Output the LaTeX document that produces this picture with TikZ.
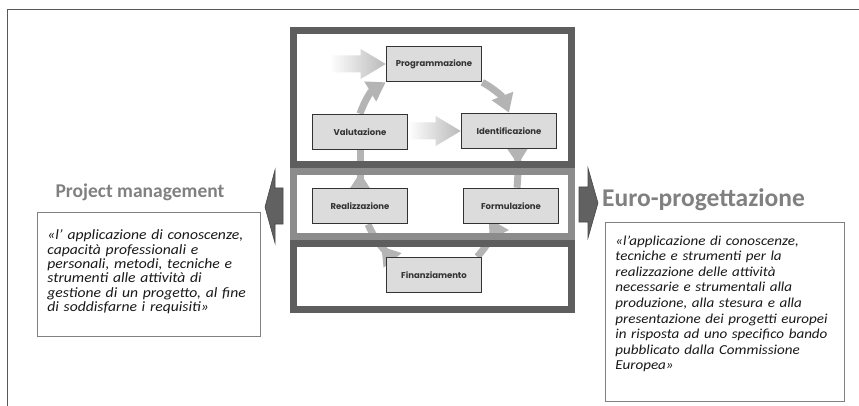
\documentclass[tikz,border=0pt]{standalone}
\usepackage{fontspec}
\setmainfont{Carlito}
\newfontfamily\stepfont{Poppins}
\newfontfamily\deffont[FakeStretch=1.1]{Carlito}
\usetikzlibrary{arrows.meta,calc,backgrounds,decorations.markings}

\definecolor{framedark}{HTML}{5E5E5E}
\definecolor{framelight}{HTML}{8C8C8C}
\definecolor{stepfill}{HTML}{DCDCDC}
\definecolor{cyclegray}{HTML}{B4B4B4}
\definecolor{titlegray}{HTML}{808080}

\newcommand{\pmfont}{\deffont\fontsize{14.2}{14.3}\selectfont\itshape}
\newcommand{\epfont}{\deffont\fontsize{13.7}{15.6}\selectfont\itshape}

\tikzset{
  stepbox/.style={draw=black!80, line width=1.6pt, fill=stepfill, minimum width=95pt, minimum height=35pt,
    font=\stepfont\bfseries\fontsize{8.5}{10}\selectfont, text=black!80},
  cyc/.style={color=cyclegray, line width=7pt},
  cycend/.style={cyc, -{Triangle[width=22pt,length=18pt]}},
  cycmid/.style={cyc, postaction={decorate},
    decoration={markings, mark=at position #1 with {\arrow{Triangle[width=22pt,length=18pt]}}}},
  feed/.style={left color=white, right color=gray!55},
  defbox/.style={draw=gray, line width=0.8pt, fill=white, align=left, inner xsep=10pt, anchor=north west,
    text=black!90},
  blockarrow/.style={fill=black!62, draw=black!72, line width=0.6pt},
  titletext/.style={text=titlegray, inner sep=0pt},
}

% shaded arrow pointing right, from the x of #1 to the tip #2
\newcommand{\feedarrow}[2]{%
  \shade[feed] ($(#1 |- #2)+(0,-8.5)$) -- ($(#2)+(-25,-8.5)$) -- ($(#2)+(-25,-15)$) -- (#2)
    -- ($(#2)+(-25,15)$) -- ($(#2)+(-25,8.5)$) -- ($(#1 |- #2)+(0,8.5)$) -- cycle;}

\begin{document}
\begin{tikzpicture}[x=1pt,y=-1pt]
\useasboundingbox (0,0) rectangle (859,406);
\draw[black!65, line width=1.5pt] (7.5,406) -- (7.5,9.5) -- (859,9.5);

% the six phases
\node[stepbox] (prog) at (434,64) {Programmazione};
\node[stepbox] (valu) at (360,132) {Valutazione};
\node[stepbox] (iden) at (509,131) {Identificazione};
\node[stepbox] (real) at (360,206) {Realizzazione};
\node[stepbox] (form) at (511,206) {Formulazione};
\node[stepbox] (fina) at (434,275) {Finanziamento};

\begin{pgfonlayer}{background}
\fill[white] (290,27) rectangle (575,313);
\draw[cycend] (valu.north) to[bend left=20] (prog.south west);
\draw[cycend] (prog.south east) to[bend left=20] (iden.north);
\draw[cycmid=0.4] ($(iden.south)+(8,0)$) to[bend left=5] ($(form.north)+(6,0)$);
\draw[cycmid=0.45] ($(form.south)+(-14,0)$) to[bend left=10] ($(fina.north east)+(-5,0)$);
\draw[cycmid=0.35] ($(fina.north west)+(5,0)$) to[bend left=10] ($(real.south)+(8,0)$);
\draw[cycmid=0.4] (real.north) -- (valu.south);
\draw[framedark, line width=7pt] (293.5,30.5) rectangle (571.5,164.5);
\draw[framedark, line width=7pt] (293.5,243.5) rectangle (571.5,309.5);
\draw[framelight, line width=7pt] (293.5,171.5) rectangle (571.5,236.5);
\coordinate (feedin) at (330,64);
\feedarrow{feedin}{prog.west}
\feedarrow{valu.east}{iden.west}
\end{pgfonlayer}

% side arrows
\filldraw[blockarrow] (283,188) -- (275,188) -- (275,170) -- (265,207) -- (275,243) -- (275,224) -- (283,224) -- cycle;
\filldraw[blockarrow] (579,187) -- (588,187) -- (588,168) -- (598,203) -- (588,238) -- (588,222) -- (579,222) -- cycle;

% definitions
\node[titletext, anchor=base, font=\bfseries\fontsize{19.5}{22}\selectfont] (pmtitle) at (140,198) {Project management};
\node[defbox, text width=203pt, minimum height=124pt, font=\pmfont] (pmdef) at (37,212)
  {«l’ applicazione di conoscenze,\\capacità professionali e\\personali, metodi, tecniche e\\strumenti alle attività di\\gestione di un progetto, al fine\\di soddisfarne i requisiti»\par\vspace{5pt}};
\node[titletext, anchor=base west, font=\bfseries\fontsize{25.5}{28}\selectfont] (eptitle) at (602,207) {Euro-progettazione};
\node[defbox, text width=219pt, minimum height=179pt, font=\epfont] (epdef) at (605,222)
  {«l’applicazione di conoscenze,\\tecniche e strumenti per la\\realizzazione delle attività\\necessarie e strumentali alla\\produzione, alla stesura e alla\\presentazione dei progetti europei\\in risposta ad uno specifico bando\\pubblicato dalla Commissione\\Europea»\par\vspace{16pt}};
\end{tikzpicture}
\end{document}
